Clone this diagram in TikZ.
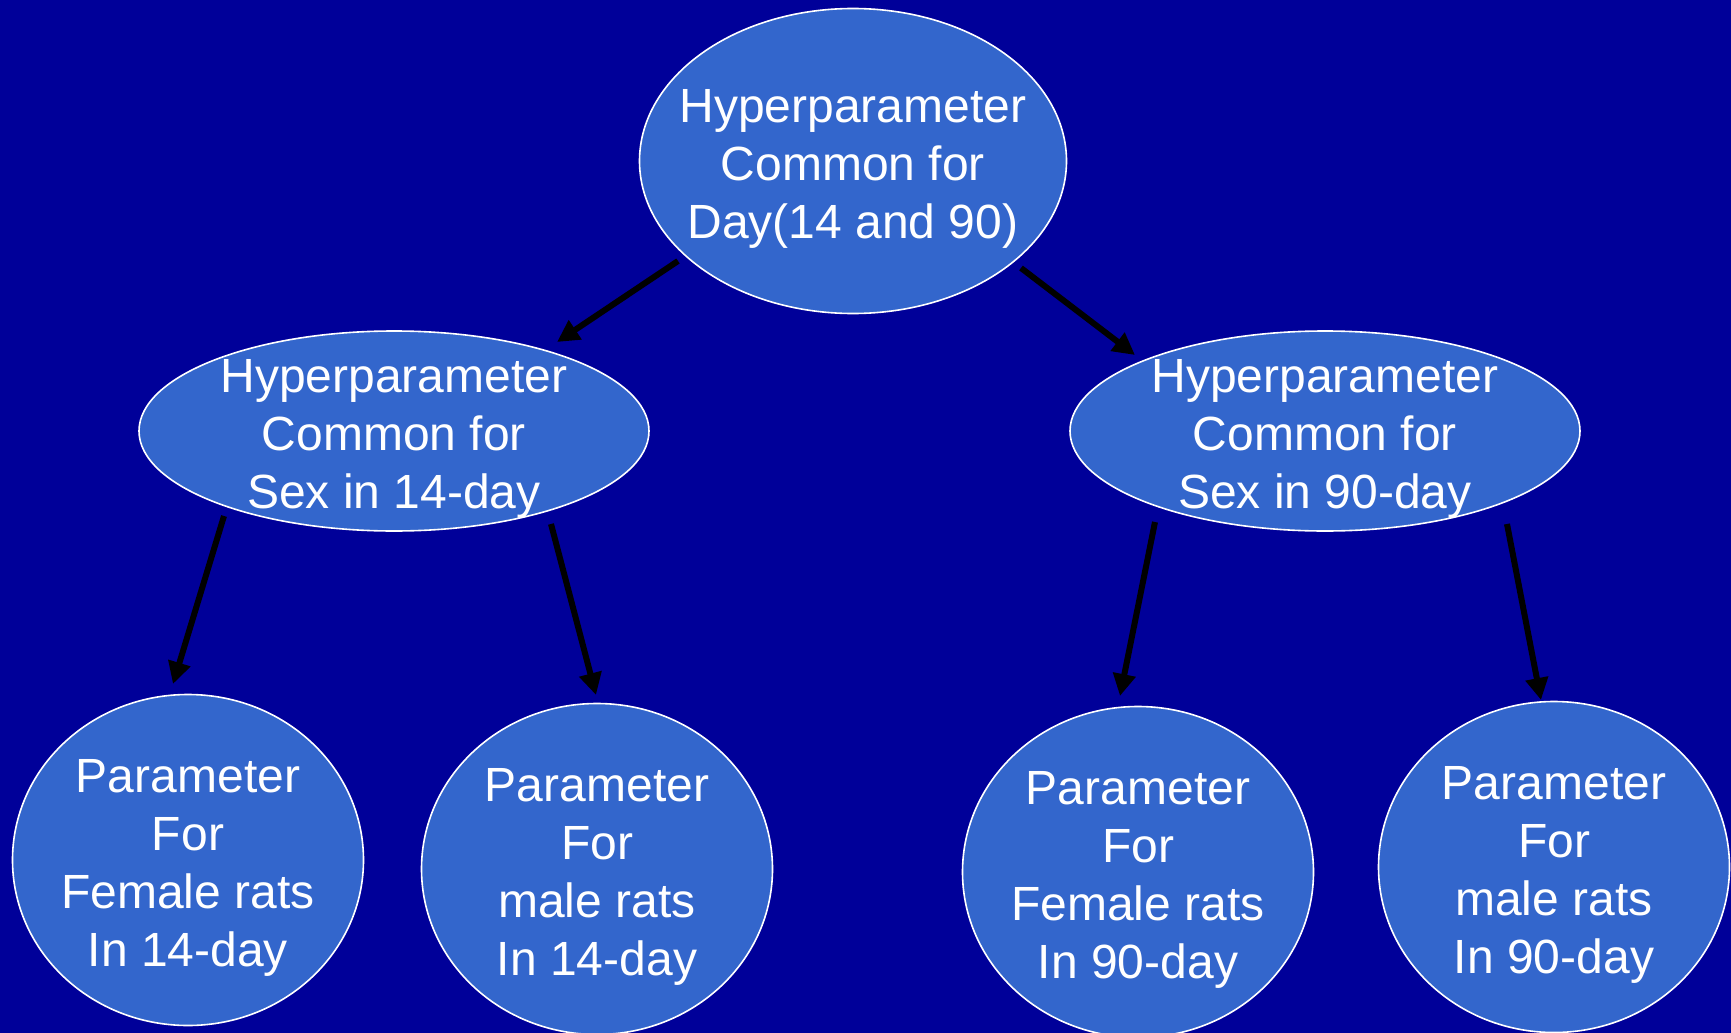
\documentclass[tikz,border=0pt]{standalone}
\usepackage{fontspec}
\setmainfont{Liberation Sans}
\usetikzlibrary{shapes.geometric,arrows.meta,calc}
\definecolor{bgblue}{HTML}{000099}
\definecolor{nodeblue}{HTML}{3366CC}
\begin{document}
\begin{tikzpicture}[x=0.5pt,y=-0.5pt,
  txt/.style={text=white,align=center,font=\fontsize{24}{29}\selectfont,yshift=-4pt},
  bub/.style={ellipse,draw=white,line width=0.8pt,fill=nodeblue,inner sep=0pt},
  topbub/.style={bub,minimum width=213.5pt,minimum height=152.5pt},
  midbub/.style={bub,minimum width=255pt,minimum height=100pt},
  lowbub/.style={bub,minimum width=175.5pt,minimum height=165.5pt},
  arr/.style={line width=3pt,black,-{Triangle[length=11pt,width=11pt]}}]
\fill[bgblue] (0,0) rectangle (1731,1033);
\useasboundingbox (0,0) rectangle (1731,1033);
\node[topbub,label={[txt]center:Hyperparameter\\Common for\\Day(14 and 90)}] (top) at (853,161) {};
\node[midbub,label={[txt]center:Hyperparameter\\Common for\\Sex in 14-day}] (left) at (394,431) {};
\node[midbub,label={[txt]center:Hyperparameter\\Common for\\Sex in 90-day}] (right) at (1325,431) {};
\node[lowbub,label={[txt]center:Parameter\\For\\Female rats\\In 14-day}] (c1) at (188,860) {};
\node[lowbub,label={[txt]center:Parameter\\For\\male rats\\In 14-day}] (c2) at (597,869) {};
\node[lowbub,label={[txt]center:Parameter\\For\\Female rats\\In 90-day}] (c3) at (1138,872) {};
\node[lowbub,label={[txt]center:Parameter\\For\\male rats\\In 90-day}] (c4) at (1554,867) {};
\draw[arr] ($(top)+(-175,100)$) -- ($(left)+(163,-89)$);
\draw[arr] ($(top)+(168,107)$) -- ($(right)+(-190,-76)$);
\draw[arr] ($(left)+(-170,85)$) -- ($(c1)+(-15,-176)$);
\draw[arr] ($(left)+(157,93)$) -- ($(c2)+(-1,-174)$);
\draw[arr] ($(right)+(-170,91)$) -- ($(c3)+(-18,-176)$);
\draw[arr] ($(right)+(182,93)$) -- ($(c4)+(-13,-167)$);
\end{tikzpicture}
\end{document}
